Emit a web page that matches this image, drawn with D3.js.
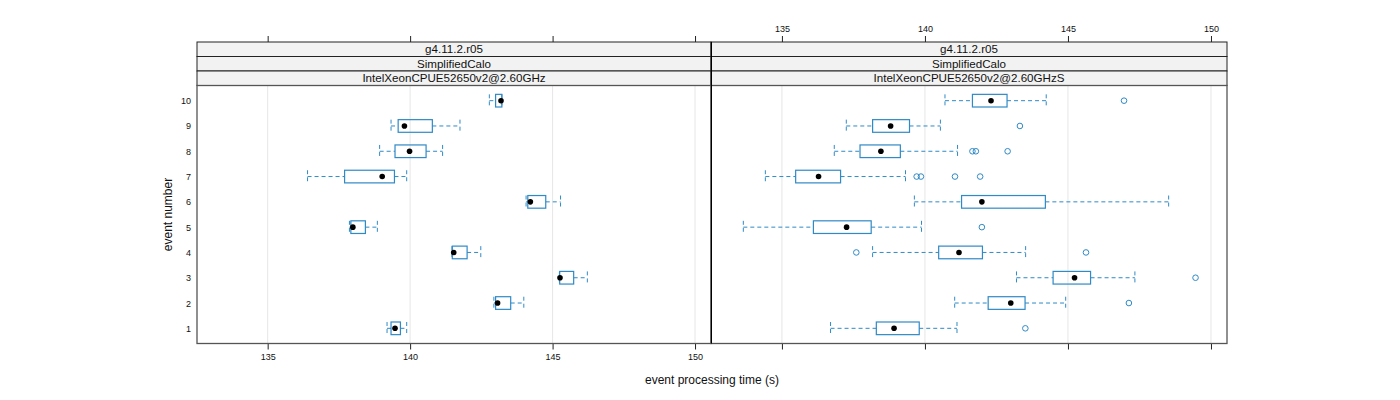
<!DOCTYPE html>
<html>
<head>
<meta charset="utf-8">
<script src="https://cdn.jsdelivr.net/npm/d3@7"></script>
<style>
  body { margin: 0; background: #fff; }
  svg { display: block; font-family: "Liberation Sans", Arial, sans-serif; }
</style>
</head>
<body>
<svg id="chart" width="1400" height="400"></svg>
<script>
// ---- data ----
const events = [1, 2, 3, 4, 5, 6, 7, 8, 9, 10];
const xTicks = [135, 140, 145, 150];
const stripLevels = ["g4.11.2.r05", "SimplifiedCalo"];
const panelNames = ["IntelXeonCPUE52650v2@2.60GHz", "IntelXeonCPUE52650v2@2.60GHzS"];

// left panel (…GHz)
const leftLow    = [139.19, 142.94, 145.24, 141.47, 137.87, 144.07, 136.40, 138.93, 139.33, 142.78];
const leftQ1     = [139.33, 143.00, 145.25, 141.48, 137.92, 144.13, 137.70, 139.47, 139.58, 143.00];
const leftMedian = [139.47, 143.07, 145.26, 141.53, 137.99, 144.22, 139.02, 139.98, 139.80, 143.19];
const leftQ3     = [139.66, 143.53, 145.74, 142.00, 138.43, 144.76, 139.45, 140.56, 140.78, 143.22];
const leftHigh   = [139.88, 143.99, 146.22, 142.48, 138.85, 145.28, 139.88, 141.14, 141.75, 143.22];
const leftOut    = [[], [], [], [], [], [], [], [], [], []];

// right panel (…GHzS)
const rightLow    = [136.70, 141.04, 143.20, 138.17, 133.65, 139.63, 134.42, 136.83, 137.25, 140.70];
const rightQ1     = [138.30, 142.21, 144.48, 140.48, 136.10, 141.28, 135.48, 137.73, 138.17, 141.66];
const rightMedian = [138.92, 143.00, 145.23, 141.19, 137.26, 141.99, 136.28, 138.46, 138.80, 142.31];
const rightQ3     = [139.80, 143.50, 145.79, 142.01, 138.12, 144.21, 137.05, 139.14, 139.46, 142.87];
const rightHigh   = [141.12, 144.92, 147.34, 143.52, 139.88, 148.52, 139.32, 141.14, 140.54, 144.24];
const rightOut    = [[143.51], [147.13], [149.46], [137.60, 145.63], [141.99], [],
                     [139.71, 139.86, 141.05, 141.93], [141.66, 141.78, 142.89], [143.32], [146.96]];

// ---- layout ----
const svg = d3.select("#chart");
const blue = "#2f8ac6";
const panelTop = 85.5, panelBottom = 343.5;
const stripTop = 42, stripH = (panelTop - stripTop) / 3;
const xDomain = [132.52, 150.56];
const y = d3.scaleLinear().domain([0.4, 10.6]).range([panelBottom, panelTop]);
const boxHalf = 0.25;

const panels = [
  { x0: 197, x1: 711, name: panelNames[0], low: leftLow, q1: leftQ1, med: leftMedian, q3: leftQ3, high: leftHigh, out: leftOut, labelsBottom: true },
  { x0: 711, x1: 1227, name: panelNames[1], low: rightLow, q1: rightQ1, med: rightMedian, q3: rightQ3, high: rightHigh, out: rightOut, labelsBottom: false }
];

panels.forEach(p => {
  const x = d3.scaleLinear().domain(xDomain).range([p.x0, p.x1]);
  const g = svg.append("g");

  // grid lines
  g.selectAll("line.grid").data(xTicks).join("line")
    .attr("x1", d => x(d)).attr("x2", d => x(d))
    .attr("y1", panelTop).attr("y2", panelBottom)
    .attr("stroke", "#e6e6e6").attr("stroke-width", 1);

  // axes
  const bottomAxis = d3.axisBottom(x).tickValues(xTicks).tickSize(6).tickPadding(4)
    .tickFormat(p.labelsBottom ? d3.format("d") : () => "");
  const topAxis = d3.axisTop(x).tickValues(xTicks).tickSize(6).tickPadding(4)
    .tickFormat(!p.labelsBottom ? d3.format("d") : () => "");
  const ab = g.append("g").attr("transform", `translate(0,${panelBottom})`).call(bottomAxis);
  const at = g.append("g").attr("transform", `translate(0,${stripTop})`).call(topAxis);
  [ab, at].forEach(a => {
    a.select(".domain").remove();
    a.selectAll(".tick line").attr("stroke", "#222");
    a.selectAll(".tick text").attr("font-size", 9).attr("fill", "#111")
      .attr("font-family", "Liberation Sans, Arial, sans-serif");
  });

  // strips
  const strips = [stripLevels[0], stripLevels[1], p.name];
  strips.forEach((s, i) => {
    g.append("rect").attr("x", p.x0).attr("y", stripTop + i * stripH)
      .attr("width", p.x1 - p.x0).attr("height", stripH)
      .attr("fill", "#f2f2f2").attr("stroke", "#222").attr("stroke-width", 1);
    g.append("text").attr("x", (p.x0 + p.x1) / 2).attr("y", stripTop + i * stripH + stripH / 2 + 4)
      .attr("text-anchor", "middle").attr("font-size", 11.6).attr("fill", "#111").text(s);
  });

  // boxes
  const rows = events.map((e, i) => ({ e, lo: p.low[i], q1: p.q1[i], med: p.med[i], q3: p.q3[i], hi: p.high[i], out: p.out[i] }));
  const bg = g.selectAll("g.bw").data(rows).join("g");
  // whiskers
  bg.append("line").attr("x1", d => x(d.lo)).attr("x2", d => x(d.q1))
    .attr("y1", d => y(d.e)).attr("y2", d => y(d.e))
    .attr("stroke", blue).attr("stroke-dasharray", "4,3");
  bg.append("line").attr("x1", d => x(d.q3)).attr("x2", d => x(d.hi))
    .attr("y1", d => y(d.e)).attr("y2", d => y(d.e))
    .attr("stroke", blue).attr("stroke-dasharray", "4,3");
  // caps
  bg.append("line").attr("x1", d => x(d.lo)).attr("x2", d => x(d.lo))
    .attr("y1", d => y(d.e + boxHalf)).attr("y2", d => y(d.e - boxHalf))
    .attr("stroke", blue).attr("stroke-dasharray", "4,3");
  bg.append("line").attr("x1", d => x(d.hi)).attr("x2", d => x(d.hi))
    .attr("y1", d => y(d.e + boxHalf)).attr("y2", d => y(d.e - boxHalf))
    .attr("stroke", blue).attr("stroke-dasharray", "4,3");
  // box
  bg.append("rect").attr("x", d => x(d.q1)).attr("width", d => x(d.q3) - x(d.q1))
    .attr("y", d => y(d.e + boxHalf)).attr("height", d => y(d.e - boxHalf) - y(d.e + boxHalf))
    .attr("fill", "none").attr("stroke", blue).attr("stroke-width", 1.2);
  // median dot
  bg.append("circle").attr("cx", d => x(d.med)).attr("cy", d => y(d.e)).attr("r", 2.8).attr("fill", "#000");
  // outliers
  bg.selectAll("circle.out").data(d => d.out.map(v => ({ v, e: d.e }))).join("circle")
    .attr("cx", d => x(d.v)).attr("cy", d => y(d.e)).attr("r", 2.8)
    .attr("fill", "none").attr("stroke", blue).attr("stroke-width", 1);

  // panel frame
  g.append("rect").attr("x", p.x0).attr("y", panelTop).attr("width", p.x1 - p.x0).attr("height", panelBottom - panelTop)
    .attr("fill", "none").attr("stroke", "#555").attr("stroke-width", 1.3);
});

// divider between panels (crisp black)
svg.append("line").attr("x1", 711.5).attr("x2", 711.5).attr("y1", stripTop).attr("y2", panelBottom)
  .attr("stroke", "#000").attr("stroke-width", 1);

// y axis labels
svg.append("g").selectAll("text").data(events).join("text")
  .attr("x", 191).attr("y", d => y(d) + 3.5).attr("text-anchor", "end")
  .attr("font-size", 9).attr("fill", "#111").text(d => d);

// axis titles
svg.append("text").attr("x", 712).attr("y", 384).attr("text-anchor", "middle")
  .attr("font-size", 12).attr("fill", "#111").text("event processing time (s)");
svg.append("text").attr("transform", `translate(172,${(panelTop + panelBottom) / 2}) rotate(-90)`)
  .attr("text-anchor", "middle").attr("font-size", 12).attr("fill", "#111").text("event number");
</script>
</body>
</html>
